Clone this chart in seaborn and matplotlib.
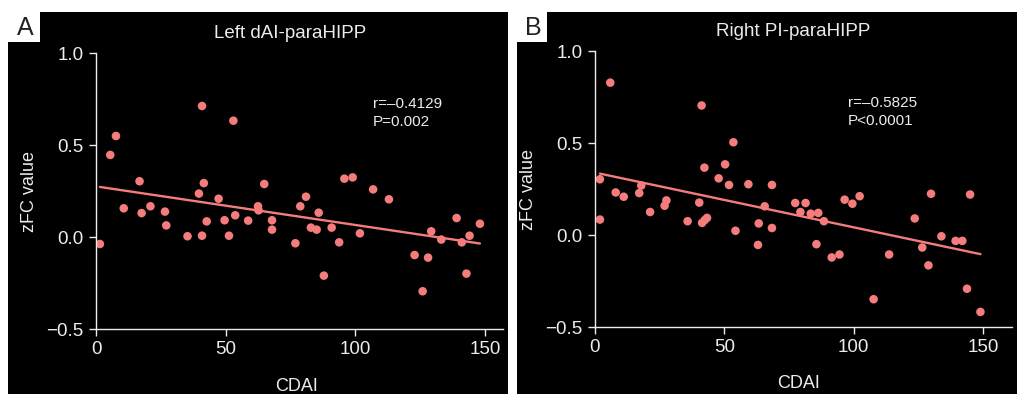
import numpy as np
import pandas as pd
import matplotlib
matplotlib.use("Agg")
import matplotlib.pyplot as plt
import matplotlib.patches as mpatches
import seaborn as sns

# panel A: Left dAI-paraHIPP
cdai_a = [1.5, 5.5, 7.7, 10.7, 16.8, 17.6, 21.0, 26.6, 27.1, 35.3,
          39.7, 40.9, 40.9, 41.6, 42.7, 47.3, 49.6, 51.3, 53.0, 53.7,
          58.7, 62.5, 62.7, 64.9, 67.9, 67.9, 76.9, 78.8, 81.0, 82.9,
          85.1, 85.9, 87.9, 90.9, 93.8, 95.8, 99.0, 101.8, 106.9, 113.0,
          122.9, 126.0, 128.1, 129.3, 133.2, 139.1, 141.1, 142.9, 144.1, 148.1]
zfc_a = [-0.038, 0.446, 0.549, 0.156, 0.303, 0.130, 0.167, 0.138, 0.063, 0.004,
         0.236, 0.712, 0.007, 0.293, 0.085, 0.208, 0.091, 0.007, 0.632, 0.118,
         0.089, 0.167, 0.145, 0.288, 0.091, 0.040, -0.034, 0.167, 0.219, 0.051,
         0.040, 0.132, -0.210, 0.051, -0.029, 0.317, 0.324, 0.020, 0.259, 0.205,
         -0.098, -0.295, -0.112, 0.031, -0.014, 0.103, -0.029, -0.199, 0.007, 0.072]

# panel B: Right PI-paraHIPP
cdai_b = [1.9, 1.9, 5.9, 8.0, 11.1, 17.1, 17.9, 21.3, 26.9, 27.6,
          35.8, 40.3, 41.2, 41.4, 42.3, 42.4, 43.3, 47.8, 50.3, 51.8,
          53.5, 54.3, 59.3, 63.3, 63.0, 65.6, 68.4, 68.4, 77.4, 79.4,
          81.4, 83.4, 86.3, 85.6, 88.5, 91.5, 94.5, 96.5, 99.5, 102.3,
          107.7, 113.7, 123.6, 126.5, 128.9, 129.9, 133.9, 139.4, 142.0, 143.8,
          145.0, 149.0]
zfc_b = [0.303, 0.084, 0.828, 0.231, 0.208, 0.228, 0.269, 0.125, 0.159, 0.188,
         0.075, 0.176, 0.704, 0.066, 0.366, 0.081, 0.093, 0.308, 0.384, 0.272,
         0.504, 0.023, 0.276, 0.063, -0.054, 0.156, 0.272, 0.038, 0.174, 0.125,
         0.174, 0.116, 0.120, -0.050, 0.075, -0.122, -0.106, 0.192, 0.170, 0.211,
         -0.349, -0.106, 0.090, -0.068, -0.165, 0.224, -0.007, -0.032, -0.032, -0.292,
         0.220, -0.418]

titles = ["Left dAI-paraHIPP", "Right PI-paraHIPP"]
stats = [("r=\u20130.4129", "P=0.002"), ("r=\u20130.5825", "P<0.0001")]
letters = ["A", "B"]

sns.set_style("white")
plt.rcParams['font.family'] = ['Liberation Sans', 'DejaVu Sans']

W, H = 1017, 394
fig = plt.figure(figsize=(W / 100, H / 100), dpi=100, facecolor="white")

def px_rect(x0, y0, x1, y1, color):
    # rectangle in pixel coords (top-left origin)
    fig.patches.append(mpatches.Rectangle(
        (x0 / W, 1 - y1 / H), (x1 - x0) / W, (y1 - y0) / H,
        transform=fig.transFigure, facecolor=color, edgecolor="none", zorder=-10))

# black panels with white letter boxes
px_rect(8, 12, 508, 394, "black")
px_rect(517, 12, 1017, 394, "black")
px_rect(8, 12, 40, 42, "white")
px_rect(517, 12, 547, 42, "white")

fg = "#ececec"
dot = "#f47c7c"

axes_px = [(96, 53, 503, 329), (595, 51, 1012, 327)]
xlims = [(0, 157), (0, 161.2)]
title_pos = [(290, 33), (793, 31)]
stat_pos = [(106.8, 0.723, 0.625), (97.8, 0.717, 0.62)]
ylabel_x = [-0.1425, -0.139]
xlabel_pos = [(0.494, -0.178), (0.487, -0.174)]
letter_pos = [(25, 28), (533, 28)]
data = [(cdai_a, zfc_a), (cdai_b, zfc_b)]

for i in range(2):
    x0, y0, x1, y1 = axes_px[i]
    ax = fig.add_axes([x0 / W, 1 - y1 / H, (x1 - x0) / W, (y1 - y0) / H])
    ax.set_zorder(1)
    ax.set_facecolor("none")
    df = pd.DataFrame({"CDAI": data[i][0], "zFC": data[i][1]})
    sns.regplot(data=df, x="CDAI", y="zFC", ax=ax, ci=None,
                scatter_kws=dict(s=38, color=dot, alpha=1, edgecolors="none"),
                line_kws=dict(color=dot, lw=1.7))
    ax.set_xlim(*xlims[i])
    ax.set_ylim(-0.5, 1.0)
    ax.set_xticks([0, 50, 100, 150])
    ax.set_yticks([-0.5, 0.0, 0.5, 1.0])
    ax.set_yticklabels(["\u22120.5", "0.0", "0.5", "1.0"])
    for s in ["top", "right"]:
        ax.spines[s].set_visible(False)
    for s in ["left", "bottom"]:
        ax.spines[s].set_color(fg)
        ax.spines[s].set_linewidth(1.0)
    ax.tick_params(colors=fg, labelcolor=fg, labelsize=13.5, direction="out",
                   length=5, width=1.0, left=True, bottom=True, pad=4)
    ax.set_xlabel("CDAI", color=fg, fontsize=13)
    ax.xaxis.set_label_coords(*xlabel_pos[i])
    ax.set_ylabel("zFC value", color=fg, fontsize=13)
    ax.yaxis.set_label_coords(ylabel_x[i], 0.5)
    sx, sy1, sy2 = stat_pos[i]
    ax.text(sx, sy1, stats[i][0], color=fg, fontsize=11, va="center", ha="left")
    ax.text(sx, sy2, stats[i][1], color=fg, fontsize=11, va="center", ha="left")
    tx, ty = title_pos[i]
    fig.text(tx / W, 1 - ty / H, titles[i], color=fg, fontsize=13.5,
             ha="center", va="center")
    lx, ly = letter_pos[i]
    fig.text(lx / W, 1 - ly / H, letters[i], color="#222222", fontsize=18,
             ha="center", va="center")

fig.savefig("out.png", dpi=100, facecolor="white")
